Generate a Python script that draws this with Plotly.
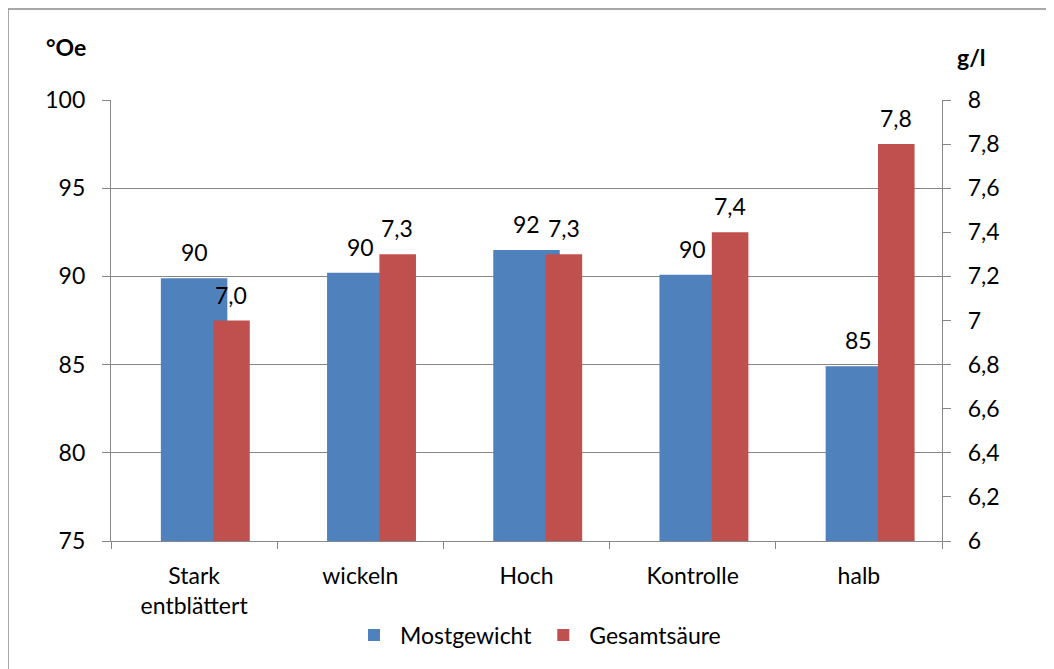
import plotly.graph_objects as go

categories = ["Stark<br>entblättert", "wickeln", "Hoch", "Kontrolle", "halb"]
mostgewicht = [89.9, 90.2, 91.5, 90.1, 84.9]
gesamtsaeure = [7.0, 7.3, 7.3, 7.4, 7.8]
left_ticks = [75, 80, 85, 90, 95, 100]
right_ticks = [6.0, 6.2, 6.4, 6.6, 6.8, 7.0, 7.2, 7.4, 7.6, 7.8, 8.0]

BLUE = "#4F81BD"
RED = "#C0504D"
GRAY = "#878787"
FONT = "Lato"
FS = 23

# page body has an 8px margin; target pixel positions are relative to the window
OFF = 8
W, H = 1054 - OFF, 669 - OFF
PL, PR, PT, PB = 111, 942, 100, 541          # plot area in window pixels
L, T = PL - OFF, PT - OFF
R = W - (PR - OFF)
B = H - (PB - OFF)
pw, ph = PR - PL, PB - PT


def px(x):
    return (x - PL) / pw


def py(y):
    return (PB - y) / ph


fig = go.Figure()
fig.add_trace(go.Bar(
    x=categories, y=mostgewicht, name="Mostgewicht",
    marker=dict(color=BLUE, line=dict(width=0)),
    width=[0.40] * len(categories), offset=[-0.20] * len(categories),
    yaxis="y", hoverinfo="skip",
))
fig.add_trace(go.Bar(
    x=categories, y=gesamtsaeure, name="Gesamtsäure",
    marker=dict(color=RED, line=dict(width=0)),
    width=[0.22] * len(categories), offset=[0.115] * len(categories),
    yaxis="y2", hoverinfo="skip",
))

annotations = []
for c, v in zip(categories, mostgewicht):
    annotations.append(dict(
        x=c, y=v, xref="x", yref="y", text=f"{v:.0f}", showarrow=False,
        xanchor="center", yanchor="bottom", yshift=10, xshift=0,
        font=dict(family=FONT, size=FS, color="black"),
    ))
for c, v in zip(categories, gesamtsaeure):
    annotations.append(dict(
        x=c, y=v, xref="x", yref="y2", text=f"{v:.1f}".replace(".", ","), showarrow=False,
        xanchor="center", yanchor="bottom", yshift=10, xshift=37,
        font=dict(family=FONT, size=FS, color="black"),
    ))
annotations.append(dict(
    x=px(66), y=py(47), xref="paper", yref="paper", text="<b>°Oe</b>", showarrow=False,
    xanchor="center", yanchor="middle",
    font=dict(family=FONT, size=FS, color="black"),
))
annotations.append(dict(
    x=px(971), y=py(57), xref="paper", yref="paper", text="<b>g/l</b>", showarrow=False,
    xanchor="center", yanchor="middle",
    font=dict(family=FONT, size=FS, color="black"),
))

fig.update_layout(
    width=W, height=H,
    margin=dict(l=L, r=R, t=T, b=B, pad=0),
    barmode="overlay",
    separators=",.",
    paper_bgcolor="white", plot_bgcolor="white",
    font=dict(family=FONT, size=FS, color="black"),
    showlegend=True,
    legend=dict(orientation="h", x=px(537), xanchor="center", y=py(635), yanchor="middle",
                font=dict(family=FONT, size=FS, color="black"), itemwidth=42,
                traceorder="normal"),
    xaxis=dict(
        showline=True, linecolor=GRAY, linewidth=1.3,
        ticks="outside", tickson="boundaries", ticklen=7, tickcolor=GRAY,
        showgrid=False, ticklabelstandoff=14,
        tickfont=dict(family=FONT, size=FS, color="black"),
    ),
    yaxis=dict(
        range=[75, 100], tickvals=left_ticks, showline=True, linecolor=GRAY, linewidth=1.3,
        ticks="outside", ticklen=8, tickcolor=GRAY, showgrid=True, gridcolor=GRAY, gridwidth=1.3,
        zeroline=False, ticklabelstandoff=12,
        tickfont=dict(family=FONT, size=FS, color="black"),
    ),
    yaxis2=dict(
        range=[6, 8], tickvals=right_ticks, overlaying="y", side="right",
        showline=True, linecolor=GRAY, linewidth=1.3,
        ticks="outside", ticklen=8, tickcolor=GRAY, showgrid=False, zeroline=False,
        ticklabelstandoff=12,
        tickfont=dict(family=FONT, size=FS, color="black"),
    ),
    annotations=annotations,
    shapes=[dict(
        type="rect", xref="paper", yref="paper",
        x0=px(8), x1=px(1075), y0=py(690), y1=py(9),
        line=dict(color="#8C8C8C", width=1.5), fillcolor="rgba(0,0,0,0)", layer="below",
    )],
)

fig.write_html("out.html")
